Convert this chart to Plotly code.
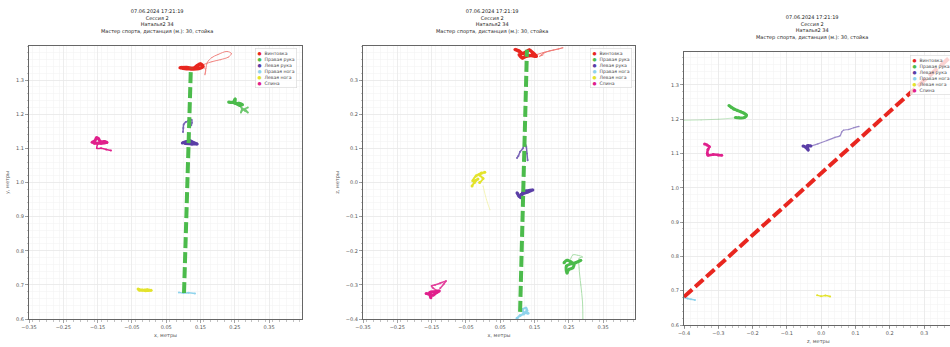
import plotly.graph_objects as go

# ---------------- data ----------------
SERIES = ["Винтовка", "Правая рука", "Левая рука", "Правая нога", "Левая нога", "Спина"]
COLORS = ["#e8261f", "#4cbb4c", "#5a3ea6", "#8fd3ec", "#e3e32c", "#e0208c"]
TITLE_LINES = ["07.06.2024 17:21:19", "Сессия 2", "Наталья2 34",
               "Мастер спорта, дистанция (м.): 30, стойка"]
AXIS_TITLES = [("x, метры", "y, метры"), ("x, метры", "z, метры"), ("z, метры", "y, метры")]

P1_XTICKS = [-0.35, -0.25, -0.15, -0.05, 0.05, 0.15, 0.25, 0.35]
P1_YTICKS = [0.6, 0.7, 0.8, 0.9, 1.0, 1.1, 1.2, 1.3]
P2_XTICKS = [-0.35, -0.25, -0.15, -0.05, 0.05, 0.15, 0.25, 0.35]
P2_YTICKS = [-0.4, -0.3, -0.2, -0.1, 0.0, 0.1, 0.2, 0.3]
P3_XTICKS = [-0.4, -0.3, -0.2, -0.1, 0.0, 0.1, 0.2, 0.3]
P3_YTICKS = [0.6, 0.7, 0.8, 0.9, 1.0, 1.1, 1.2, 1.3]

# Panel 1: x (horizontal) / y (vertical)
P1_RIFLE_X = [0.09, 0.11, 0.13, 0.14, 0.15, 0.157, 0.145, 0.12, 0.10, 0.093]
P1_RIFLE_Y = [1.336, 1.337, 1.335, 1.342, 1.347, 1.34, 1.334, 1.333, 1.335, 1.337]
P1_RIFLE_TR_X = [0.157, 0.165, 0.163, 0.166, 0.17, 0.183, 0.201, 0.227, 0.24, 0.232, 0.208, 0.183, 0.16]
P1_RIFLE_TR_Y = [1.34, 1.33, 1.316, 1.335, 1.352, 1.366, 1.375, 1.384, 1.378, 1.368, 1.36, 1.354, 1.346]
P1_RHAND_X = [0.232, 0.245, 0.251, 0.252, 0.262, 0.272, 0.265, 0.25, 0.238]
P1_RHAND_Y = [1.236, 1.235, 1.245, 1.232, 1.232, 1.228, 1.226, 1.233, 1.235]
P1_RHAND_TR_X = [0.265, 0.27, 0.28, 0.288, 0.282, 0.272, 0.268, 0.275, 0.288]
P1_RHAND_TR_Y = [1.226, 1.218, 1.21, 1.205, 1.212, 1.216, 1.205, 1.214, 1.22]
P1_LHAND_X = [0.097, 0.11, 0.12, 0.13, 0.14, 0.125, 0.105]
P1_LHAND_Y = [1.116, 1.12, 1.122, 1.117, 1.113, 1.113, 1.114]
P1_LHAND_TR_X = [0.099, 0.10, 0.101, 0.107, 0.115, 0.124, 0.125, 0.123]
P1_LHAND_TR_Y = [1.148, 1.16, 1.17, 1.177, 1.181, 1.184, 1.175, 1.168]
P1_RLEG_X = [0.087, 0.10, 0.115, 0.134]
P1_RLEG_Y = [0.678, 0.676, 0.677, 0.675]
P1_LLEG_X = [-0.032, -0.02, -0.005, 0.006, -0.01, -0.028]
P1_LLEG_Y = [0.688, 0.685, 0.686, 0.684, 0.683, 0.684]
P1_BACK_X = [-0.166, -0.158, -0.153, -0.147, -0.142, -0.13, -0.123, -0.14, -0.16]
P1_BACK_Y = [1.118, 1.122, 1.131, 1.128, 1.12, 1.12, 1.117, 1.115, 1.115]
P1_BACK_TR_X = [-0.15, -0.152, -0.14, -0.125, -0.111]
P1_BACK_TR_Y = [1.112, 1.10, 1.10, 1.097, 1.094]
P1_LINE_X = [0.102, 0.122]
P1_LINE_Y = [0.676, 1.336]

# Panel 2: x (horizontal) / z (vertical)
P2_RIFLE_X = [0.093, 0.105, 0.115, 0.125, 0.135, 0.145, 0.155, 0.14, 0.125, 0.115, 0.105]
P2_RIFLE_Y = [0.39, 0.385, 0.378, 0.382, 0.388, 0.38, 0.37, 0.372, 0.37, 0.365, 0.375]
P2_RIFLE_TR_X = [0.157, 0.18, 0.205, 0.233, 0.22, 0.195, 0.175, 0.165, 0.175]
P2_RIFLE_TR_Y = [0.375, 0.382, 0.388, 0.395, 0.391, 0.386, 0.378, 0.37, 0.374]
P2_RHAND_X = [0.236, 0.245, 0.255, 0.265, 0.262, 0.25, 0.245, 0.243, 0.27, 0.285]
P2_RHAND_Y = [-0.235, -0.228, -0.232, -0.24, -0.25, -0.255, -0.265, -0.245, -0.235, -0.228]
P2_RHAND_TR_X = [0.255, 0.262, 0.275, 0.29, 0.28, 0.28, 0.285, 0.29, 0.291]
P2_RHAND_TR_Y = [-0.225, -0.212, -0.213, -0.218, -0.222, -0.25, -0.30, -0.35, -0.40]
P2_LHAND_X = [0.099, 0.105, 0.112, 0.115, 0.125, 0.145, 0.13, 0.11]
P2_LHAND_Y = [-0.03, -0.04, -0.045, -0.03, -0.025, -0.022, -0.028, -0.035]
P2_LHAND_TR_X = [0.099, 0.103, 0.108, 0.116, 0.122, 0.126, 0.128, 0.13]
P2_LHAND_TR_Y = [0.072, 0.078, 0.09, 0.10, 0.115, 0.105, 0.085, 0.065]
P2_RLEG_X = [0.099, 0.108, 0.118, 0.128, 0.125, 0.115, 0.12, 0.131]
P2_RLEG_Y = [-0.398, -0.39, -0.385, -0.375, -0.368, -0.372, -0.382, -0.383]
P2_LLEG_X = [-0.032, -0.025, -0.015, -0.03, -0.02, -0.005, 0.005, -0.01, 0.0, -0.01]
P2_LLEG_Y = [-0.01, 0.0, 0.01, 0.005, 0.02, 0.028, 0.03, 0.022, 0.012, 0.0]
P2_LLEG_TR_X = [0.0, 0.01, 0.02]
P2_LLEG_TR_Y = [-0.01, -0.05, -0.08]
P2_BACK_X = [-0.166, -0.155, -0.145, -0.135, -0.128, -0.14, -0.155, -0.152]
P2_BACK_Y = [-0.325, -0.328, -0.33, -0.322, -0.318, -0.32, -0.322, -0.338]
P2_BACK_TR_X = [-0.13, -0.145, -0.15, -0.14, -0.125, -0.108, -0.115, -0.125]
P2_BACK_TR_Y = [-0.318, -0.31, -0.303, -0.30, -0.295, -0.289, -0.298, -0.31]
P2_LINE_X = [0.108, 0.128]
P2_LINE_Y = [-0.379, 0.389]

# Panel 3: z (horizontal) / y (vertical)
P3_RIFLE_X = [0.38, 0.40, 0.42]
P3_RIFLE_Y = [1.34, 1.345, 1.338]
P3_RHAND_X = [-0.269, -0.262, -0.255, -0.245, -0.235, -0.226, -0.218, -0.224, -0.24, -0.25]
P3_RHAND_Y = [1.24, 1.235, 1.23, 1.226, 1.222, 1.218, 1.212, 1.205, 1.204, 1.205]
P3_RHAND_TR_X = [-0.25, -0.30, -0.35, -0.40]
P3_RHAND_TR_Y = [1.204, 1.20, 1.198, 1.197]
P3_LHAND_X = [-0.053, -0.045, -0.038, -0.04, -0.03]
P3_LHAND_Y = [1.122, 1.118, 1.11, 1.123, 1.122]
P3_LHAND_TR_X = [-0.03, -0.01, 0.017, 0.04, 0.055, 0.06, 0.065, 0.08, 0.095, 0.11]
P3_LHAND_TR_Y = [1.122, 1.128, 1.138, 1.147, 1.152, 1.163, 1.168, 1.17, 1.175, 1.179]
P3_RLEG_X = [-0.40, -0.39, -0.38, -0.368]
P3_RLEG_Y = [0.68, 0.677, 0.675, 0.673]
P3_LLEG_X = [-0.012, 0.0, 0.012, 0.026]
P3_LLEG_Y = [0.687, 0.684, 0.686, 0.683]
P3_BACK_X = [-0.34, -0.333, -0.326, -0.33, -0.332, -0.33, -0.315, -0.30, -0.29]
P3_BACK_Y = [1.128, 1.125, 1.12, 1.112, 1.10, 1.095, 1.097, 1.096, 1.095]
P3_LINE_X = [-0.40, 0.38]
P3_LINE_Y = [0.682, 1.385]

# ---------------- figure ----------------
W, H = 950, 347
FONT = "DejaVu Sans"
fig = go.Figure()


def px_x(p):
    return p / W


def px_y(p):
    return (H - p) / H


def path(ax, xs, ys, ci, width=2.5, opacity=1.0, msize=3):
    fig.add_trace(go.Scatter(
        x=xs, y=ys, xaxis="x" + ax, yaxis="y" + ax, mode="lines+markers",
        line=dict(color=COLORS[ci], width=width, shape="spline"),
        marker=dict(color=COLORS[ci], size=msize, line=dict(width=0)),
        opacity=opacity, showlegend=False, hoverinfo="skip"))


def dashed(ax, xs, ys, color):
    fig.add_trace(go.Scatter(
        x=xs, y=ys, xaxis="x" + ax, yaxis="y" + ax, mode="lines",
        line=dict(color=color, width=4, dash="11px,4px"),
        showlegend=False, hoverinfo="skip"))


# panel 1
path("", P1_RIFLE_TR_X, P1_RIFLE_TR_Y, 0, width=1, opacity=0.55, msize=1)
path("", P1_RIFLE_X, P1_RIFLE_Y, 0, width=3.5)
path("", P1_RHAND_TR_X, P1_RHAND_TR_Y, 1, width=1.5, opacity=0.8, msize=2)
path("", P1_RHAND_X, P1_RHAND_Y, 1, width=3)
path("", P1_LHAND_TR_X, P1_LHAND_TR_Y, 2, width=1.5, opacity=0.8, msize=2)
path("", P1_LHAND_X, P1_LHAND_Y, 2, width=3)
path("", P1_RLEG_X, P1_RLEG_Y, 3, width=1.5, msize=2)
path("", P1_LLEG_X, P1_LLEG_Y, 4, width=2.5)
path("", P1_BACK_TR_X, P1_BACK_TR_Y, 5, width=1.5, msize=2)
path("", P1_BACK_X, P1_BACK_Y, 5, width=3)
dashed("", P1_LINE_X, P1_LINE_Y, COLORS[1])

# panel 2
path("2", P2_RIFLE_TR_X, P2_RIFLE_TR_Y, 0, width=1, opacity=0.6, msize=1)
path("2", P2_RIFLE_X, P2_RIFLE_Y, 0, width=3.5)
path("2", P2_RHAND_TR_X, P2_RHAND_TR_Y, 1, width=1, opacity=0.45, msize=1)
path("2", P2_RHAND_X, P2_RHAND_Y, 1, width=3)
path("2", P2_LHAND_TR_X, P2_LHAND_TR_Y, 2, width=1.5, opacity=0.8, msize=2)
path("2", P2_LHAND_X, P2_LHAND_Y, 2, width=3)
path("2", P2_RLEG_X, P2_RLEG_Y, 3, width=2)
path("2", P2_LLEG_TR_X, P2_LLEG_TR_Y, 4, width=0.8, opacity=0.4, msize=1)
path("2", P2_LLEG_X, P2_LLEG_Y, 4, width=2)
path("2", P2_BACK_TR_X, P2_BACK_TR_Y, 5, width=1.5, opacity=0.85, msize=2)
path("2", P2_BACK_X, P2_BACK_Y, 5, width=3)
dashed("2", P2_LINE_X, P2_LINE_Y, COLORS[1])

# panel 3
path("3", P3_RIFLE_X, P3_RIFLE_Y, 0, width=3)
path("3", P3_RHAND_TR_X, P3_RHAND_TR_Y, 1, width=0.8, opacity=0.4, msize=1)
path("3", P3_RHAND_X, P3_RHAND_Y, 1, width=3)
path("3", P3_LHAND_TR_X, P3_LHAND_TR_Y, 2, width=1.2, opacity=0.6, msize=1.5)
path("3", P3_LHAND_X, P3_LHAND_Y, 2, width=3)
path("3", P3_RLEG_X, P3_RLEG_Y, 3, width=1.5, msize=2)
path("3", P3_LLEG_X, P3_LLEG_Y, 4, width=1.5, msize=2)
path("3", P3_BACK_X, P3_BACK_Y, 5, width=2.5)
dashed("3", P3_LINE_X, P3_LINE_Y, COLORS[0])


def axis(domain, rng, ticks, fmt, title, standoff):
    return dict(
        domain=domain, range=rng, tickmode="array", tickvals=ticks, tickformat=fmt,
        showgrid=True, gridcolor="#e8e8e8", gridwidth=0.8, zeroline=False,
        showline=True, linecolor="#666", linewidth=1, mirror=True,
        ticks="outside", ticklen=3, tickwidth=0.6, tickcolor="#666",
        tickfont=dict(family=FONT, size=5, color="#555"),
        minor=dict(dtick=0.02, showgrid=True, gridcolor="#f4f4f4", gridwidth=0.6,
                   ticks="outside", ticklen=1.5, tickcolor="#999"),
        title=dict(text=title, font=dict(family=FONT, size=5, color="#555"), standoff=standoff),
        fixedrange=True, automargin=False)


D1x = [px_x(29), px_x(302)]
D2x = [px_x(363), px_x(635)]
D3x = [px_x(684), 1.0]
D12y = [px_y(319), px_y(46)]
D3y = [px_y(325), px_y(52)]

fig.update_layout(
    width=W, height=H, margin=dict(l=0, r=0, t=0, b=0),
    paper_bgcolor="white", plot_bgcolor="white",
    font=dict(family=FONT, size=5, color="#333"), showlegend=False,
    xaxis=axis(D1x, [-0.35, 0.446], P1_XTICKS, ".2f", AXIS_TITLES[0][0], 4),
    yaxis=axis(D12y, [0.6, 1.4], P1_YTICKS, ".1f", AXIS_TITLES[0][1], 6),
    xaxis2=axis(D2x, [-0.35, 0.443], P2_XTICKS, ".2f", AXIS_TITLES[1][0], 4),
    yaxis2=axis(D12y, [-0.4, 0.4], P2_YTICKS, ".1f", AXIS_TITLES[1][1], 6),
    xaxis3=axis(D3x, [-0.4, 0.3755], P3_XTICKS, ".1f", "", 0),
    yaxis3=axis(D3y, [0.6, 1.396], P3_YTICKS, ".1f", "", 6),
)
fig.layout.xaxis.anchor = "y"
fig.layout.yaxis.anchor = "x"
fig.layout.xaxis2.anchor = "y2"
fig.layout.yaxis2.anchor = "x2"
fig.layout.xaxis3.anchor = "y3"
fig.layout.yaxis3.anchor = "x3"

# third panel's x-axis title (placed explicitly so it stays inside the bottom edge)
fig.add_annotation(x=px_x(818), y=px_y(341.5), xref="paper", yref="paper",
                   text=AXIS_TITLES[2][0], showarrow=False,
                   xanchor="center", yanchor="middle", borderpad=0,
                   font=dict(family=FONT, size=5, color="#555"))

title_text = "<br>".join(TITLE_LINES)
for cx, cy in [(157, 21.7), (492, 21.7), (812, 27.5)]:
    fig.add_annotation(x=px_x(cx), y=px_y(cy), xref="paper", yref="paper",
                       text=title_text, showarrow=False, align="center",
                       xanchor="center", yanchor="middle",
                       font=dict(family=FONT, size=5, color="#222"))

legend_text = "<br>".join(
    "<span style='color:%s'>●</span>  %s" % (c, s) for s, c in zip(SERIES, COLORS))
for lx, ly in [(255, 48), (590, 48), (910, 55)]:
    fig.add_annotation(x=px_x(lx), y=px_y(ly), xref="paper", yref="paper",
                       text=legend_text, showarrow=False, align="left",
                       xanchor="left", yanchor="top",
                       bgcolor="rgba(255,255,255,0.8)", bordercolor="#d6d6d6",
                       borderwidth=0.6, borderpad=2,
                       font=dict(family=FONT, size=4.6, color="#444"))

# remove the browser's default page margin so the figure fills the window exactly
fig.write_html("out.html", config={"displayModeBar": False, "staticPlot": True},
               post_script="document.body.style.margin='0';")
